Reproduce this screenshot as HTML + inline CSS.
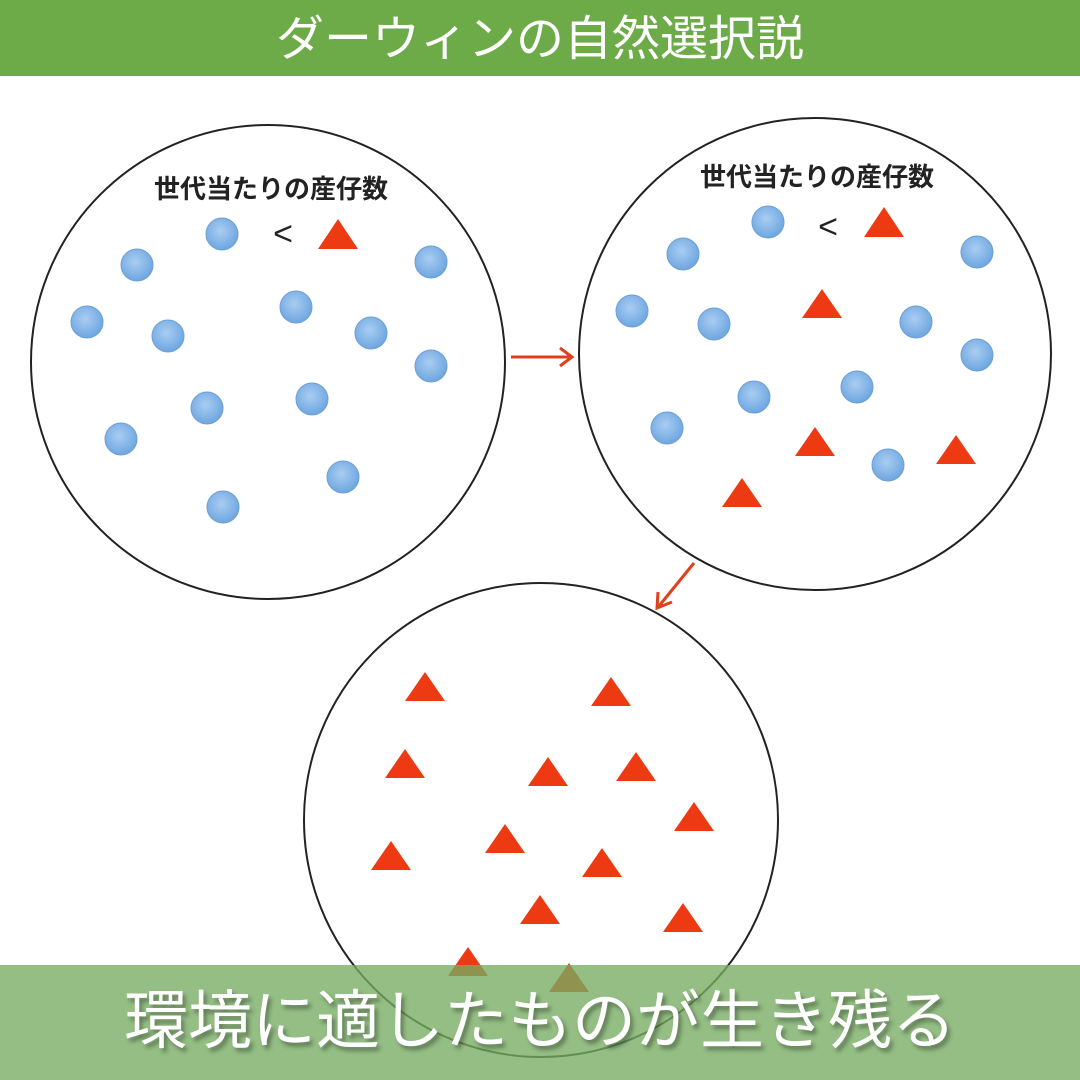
<!DOCTYPE html>
<html><head><meta charset="utf-8"><style>
body{margin:0;width:1080px;height:1080px;background:#fff;overflow:hidden;position:relative;font-family:"Liberation Sans","Noto Sans CJK JP",sans-serif}
.hdr{position:absolute;left:0;top:0;width:1080px;height:76px;background:#6dab48;color:#fff;font-size:48px;text-align:center;line-height:80px}
.ftr{position:absolute;left:0;top:965px;width:1080px;height:115px;background:rgba(118,172,98,0.78);color:#fff;font-size:64px;text-align:center;line-height:112px;text-shadow:3px 4px 4px rgba(0,0,0,0.35)}
</style></head><body>
<svg width="1080" height="1080" style="position:absolute;left:0;top:0">
<defs>
<radialGradient id="g" cx="45%" cy="40%" r="60%"><stop offset="0" stop-color="#a9cdf2"/><stop offset="1" stop-color="#6ea6e0"/></radialGradient>
</defs>
<g fill="none" stroke="#222" stroke-width="2">
<circle cx="268" cy="362" r="237"/>
<circle cx="815" cy="354" r="236"/>
<circle cx="541" cy="820" r="237"/>
</g>
<g font-size="26" font-weight="bold" fill="#222" text-anchor="middle" font-family="Liberation Sans,Noto Sans CJK JP,sans-serif">
<text x="271" y="198">世代当たりの産仔数</text>
<text x="817" y="186">世代当たりの産仔数</text>
<text x="283" y="245" font-size="34" font-weight="normal">&lt;</text>
<text x="828" y="238" font-size="34" font-weight="normal">&lt;</text>
</g>
<g fill="url(#g)" stroke="#6b9fd6">
<circle cx="222" cy="234" r="16"/><circle cx="137" cy="265" r="16"/><circle cx="431" cy="262" r="16"/><circle cx="87" cy="322" r="16"/><circle cx="168" cy="336" r="16"/><circle cx="296" cy="307" r="16"/><circle cx="371" cy="333" r="16"/><circle cx="431" cy="366" r="16"/><circle cx="207" cy="408" r="16"/><circle cx="312" cy="399" r="16"/><circle cx="121" cy="439" r="16"/><circle cx="343" cy="477" r="16"/><circle cx="223" cy="507" r="16"/>
<circle cx="768" cy="222" r="16"/><circle cx="683" cy="254" r="16"/><circle cx="977" cy="252" r="16"/><circle cx="632" cy="311" r="16"/><circle cx="714" cy="324" r="16"/><circle cx="916" cy="322" r="16"/><circle cx="977" cy="355" r="16"/><circle cx="754" cy="397" r="16"/><circle cx="857" cy="387" r="16"/><circle cx="667" cy="428" r="16"/><circle cx="888" cy="465" r="16"/>
</g>
<g fill="#ee3a12">
<polygon points="338,219 318,249 358,249"/>
<polygon points="884,207 864,237 904,237"/>
<polygon points="822,289 802,318 842,318"/>
<polygon points="815,427 795,456 835,456"/>
<polygon points="956,435 936,464 976,464"/>
<polygon points="742,478 722,507 762,507"/>
<polygon points="425,672 405,701 445,701"/>
<polygon points="611,677 591,706 631,706"/>
<polygon points="405,749 385,778 425,778"/>
<polygon points="548,757 528,786 568,786"/>
<polygon points="636,752 616,781 656,781"/>
<polygon points="694,802 674,831 714,831"/>
<polygon points="505,824 485,853 525,853"/>
<polygon points="391,841 371,870 411,870"/>
<polygon points="602,848 582,877 622,877"/>
<polygon points="540,895 520,924 560,924"/>
<polygon points="683,903 663,932 703,932"/>
<polygon points="468,947 448,976 488,976"/>
<polygon points="569,963 549,992 589,992"/>
</g>
<g stroke="#e0401e" stroke-width="3" fill="none">
<line x1="511" y1="357" x2="571" y2="357"/><polyline points="560,348 572,357 560,366"/>
<line x1="694" y1="563" x2="659" y2="606"/><polyline points="658,592 657,608 672,602"/>
</g>
</svg>
<div class="hdr">ダーウィンの自然選択説</div>
<div class="ftr">環境に適したものが生き残る</div>
</body></html>
